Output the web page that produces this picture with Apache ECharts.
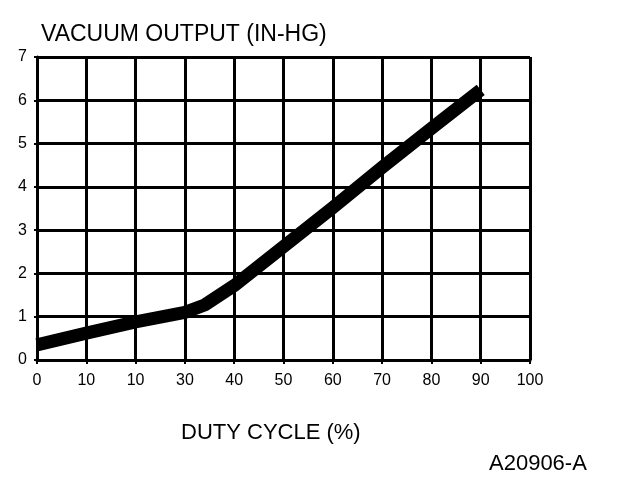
<!DOCTYPE html>
<html><head><meta charset="utf-8">
<script src="https://cdn.jsdelivr.net/npm/echarts@6/dist/echarts.min.js"></script>
<style>html,body{margin:0;padding:0;background:#fff}#c{width:624px;height:480px}</style>
</head><body><div id="c"></div>
<script>
const dutyCycle = [0, 10, 20, 30, 34, 40, 50, 60, 70, 80, 90];
const vacuum = [0.35, 0.62, 0.88, 1.1, 1.27, 1.72, 2.62, 3.52, 4.45, 5.35, 6.24];
const xTickLabels = ['0', '10', '10', '30', '40', '50', '60', '70', '80', '90', '100'];
const yTitle = 'VACUUM OUTPUT (IN-HG)';
const xTitle = 'DUTY CYCLE (%)';
const figId = 'A20906-A';

const chart = echarts.init(document.getElementById('c'), null, {renderer: 'canvas'});
const font = 'Liberation Sans, Arial, sans-serif';
chart.setOption({
  animation: false,
  backgroundColor: '#fff',
  grid: {left: 37, right: 94, top: 57, bottom: 120},
  title: [
    {text: yTitle, left: 36, top: 18, textStyle: {fontFamily: font, fontSize: 23, fontWeight: 'normal', color: '#000'}},
    {text: xTitle, left: 176, top: 417, textStyle: {fontFamily: font, fontSize: 22, fontWeight: 'normal', color: '#000'}},
    {text: figId, left: 484, top: 448, textStyle: {fontFamily: font, fontSize: 22, fontWeight: 'normal', color: '#000'}}
  ],
  xAxis: {
    type: 'value', min: 0, max: 100, interval: 10,
    axisLine: {show: true, lineStyle: {color: '#000', width: 3}},
    axisTick: {show: true, length: 4, lineStyle: {color: '#000', width: 2}},
    splitLine: {show: true, lineStyle: {color: '#000', width: 3}},
    axisLabel: {color: '#000', fontFamily: font, fontSize: 16, margin: 13,
      formatter: v => xTickLabels[Math.round(v / 10)]}
  },
  yAxis: {
    type: 'value', min: 0, max: 7, interval: 1,
    axisLine: {show: true, lineStyle: {color: '#000', width: 3}},
    axisTick: {show: true, length: 3, lineStyle: {color: '#000', width: 2}},
    splitLine: {show: true, lineStyle: {color: '#000', width: 3}},
    axisLabel: {color: '#000', fontFamily: font, fontSize: 16, margin: 10}
  },
  series: [{
    type: 'line',
    data: dutyCycle.map((x, i) => [x, vacuum[i]]),
    symbol: 'none',
    lineStyle: {color: '#000', width: 13, cap: 'butt', join: 'round'},
    z: 5
  }]
});
</script></body></html>
